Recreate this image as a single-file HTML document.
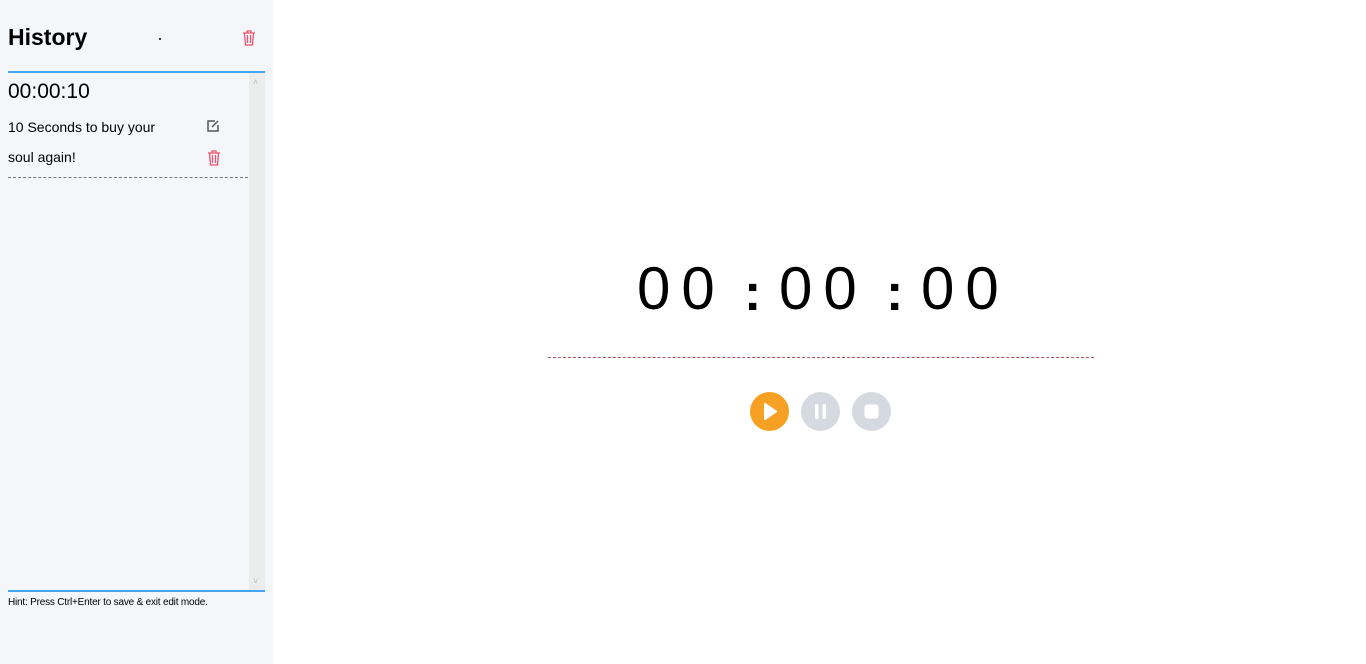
<!DOCTYPE html>
<html><head><meta charset="utf-8"><style>
body{margin:0;width:1366px;height:664px;background:#fff;position:relative;overflow:hidden;font-family:"Liberation Sans",sans-serif}
.a{position:absolute}
#side{left:0;top:0;width:273px;height:664px;background:#f4f6fa}
.d{font-size:60px;top:254px;line-height:70px;color:#000;letter-spacing:11px}
.btn{width:39px;height:39px;border-radius:50%;top:392px}
</style></head><body>
<div id="side" class="a">
 <div class="a" style="left:8px;top:24px;font-size:23px;font-weight:bold;">History</div>
 <div class="a" style="left:159px;top:38px;width:2px;height:2px;background:#444"></div>
 <svg class="a" style="left:242px;top:30px" width="14" height="16"><path d="M1 3h12M5 3V1h4v2M2.5 3l1 12h7l1-12M5.5 5v8M8.5 5v8" stroke="#e8546e" stroke-width="1.3" fill="none"/></svg>
 <div class="a" style="left:8px;top:71px;width:257px;height:2px;background:#42a5f5"></div>
 <div class="a" style="left:249px;top:73px;width:16px;height:518px;background:#ececec"></div>
 <div class="a" style="left:253px;top:77px;font-size:9px;color:#bbb">˄</div>
 <div class="a" style="left:253px;top:576px;font-size:9px;color:#bbb">˅</div>
 <div class="a" style="left:8px;top:80px;font-size:21px;">00:00:10</div>
 <div class="a" style="left:8px;top:112px;font-size:14px;line-height:30px;width:170px">10 Seconds to buy your soul again!</div>
 <svg class="a" style="left:206px;top:119px" width="14" height="14"><path d="M9 2H2v10h10V6" stroke="#555" stroke-width="1.5" fill="none"/><path d="M6 8l6-6" stroke="#555" stroke-width="1.5"/></svg>
 <svg class="a" style="left:207px;top:150px" width="14" height="16"><path d="M1 3h12M5 3V1h4v2M2.5 3l1 12h7l1-12M5.5 5v8M8.5 5v8" stroke="#e8546e" stroke-width="1.3" fill="none"/></svg>
 <div class="a" style="left:8px;top:177px;width:240px;border-top:1px dashed #777"></div>
 <div class="a" style="left:8px;top:590px;width:257px;height:2px;background:#42a5f5"></div>
 <div class="a" style="left:8px;top:597px;font-size:10px;letter-spacing:-0.2px">Hint: Press Ctrl+Enter to save &amp; exit edit mode.</div>
</div>
<div class="a d" style="left:637px">00</div>
<div class="a d" style="left:744px;font-weight:bold;font-size:52px;top:258px">:</div>
<div class="a d" style="left:779px">00</div>
<div class="a d" style="left:886px;font-weight:bold;font-size:52px;top:258px">:</div>
<div class="a d" style="left:921px">00</div>
<div class="a" style="left:548px;top:357px;width:546px;border-top:1px dashed #a55"></div>
<div class="a btn" style="left:750px;background:#f6a123"><svg width="39" height="39"><path d="M15 12l11 7.5-11 7.5z" fill="#fff" stroke="#fff" stroke-linejoin="round" stroke-width="2"/></svg></div>
<div class="a btn" style="left:801px;background:#d5dae1"><svg width="39" height="39"><rect x="14" y="12" width="3.5" height="15" rx="1.5" fill="#fff"/><rect x="21.5" y="12" width="3.5" height="15" rx="1.5" fill="#fff"/></svg></div>
<div class="a btn" style="left:852px;background:#d5dae1"><svg width="39" height="39"><rect x="12.5" y="12.5" width="14" height="14" rx="3" fill="#fff"/></svg></div>
</body></html>
